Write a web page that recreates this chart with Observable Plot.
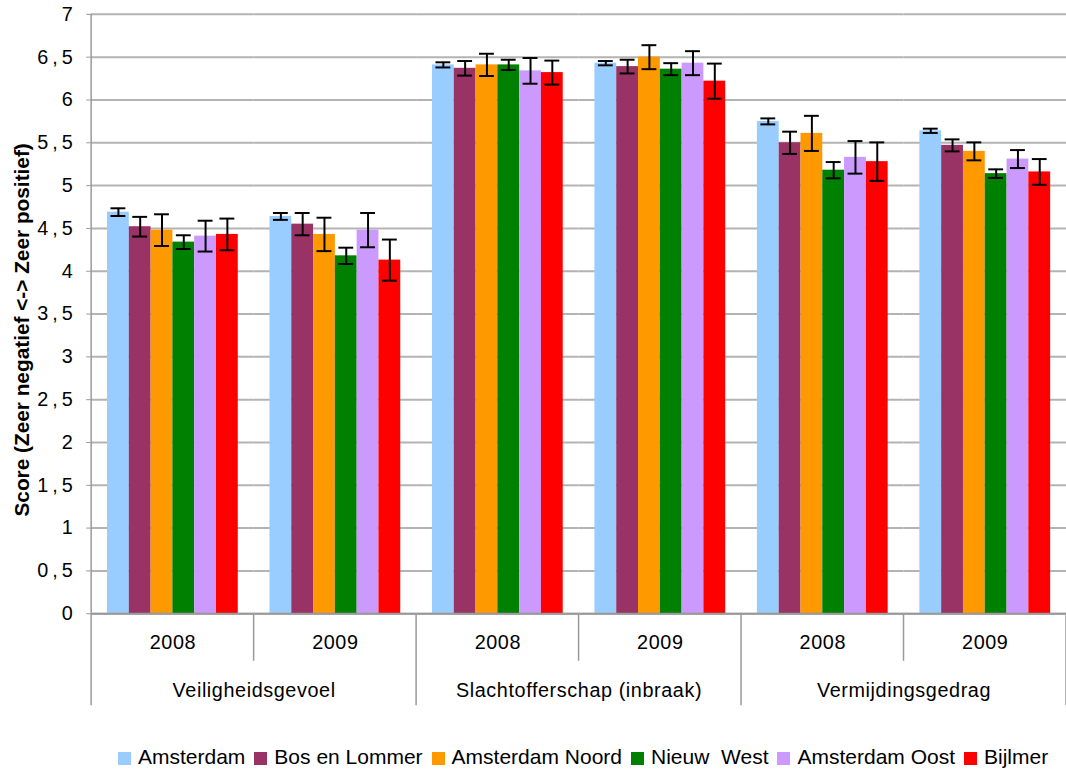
<!DOCTYPE html>
<html>
<head>
<meta charset="utf-8">
<script src="https://cdn.jsdelivr.net/npm/d3@7"></script>
<script src="https://cdn.jsdelivr.net/npm/@observablehq/plot@0.6"></script>
<style>
  html, body { margin: 0; padding: 0; background: #fff; overflow: hidden; width: 1066px; height: 772px; }
  #chart { position: absolute; left: 0; top: 0; }
  #legend { position: absolute; left: 118px; top: 745px; display: flex; align-items: center;
    font-family: "Liberation Sans", Arial, sans-serif; font-size: 21px; color: #000; white-space: pre; }
  #legend .item { display: flex; align-items: center; margin-right: 9px; }
  #legend .sw { width: 13px; height: 13px; margin-right: 7px; margin-top: 3px; }
</style>
</head>
<body>
<div id="chart"></div>
<div id="legend"></div>
<script>
const districts = ["Amsterdam", "Bos en Lommer", "Amsterdam Noord", "Nieuw  West", "Amsterdam Oost", "Bijlmer"];
const colors = ["#99CCFF", "#993366", "#FF9900", "#008000", "#CC99FF", "#FF0000"];
const categories = ["Veiligheidsgevoel", "Slachtofferschap (inbraak)", "Vermijdingsgedrag"];
const years = ["2008", "2009"];
const yTicks = [0, 0.5, 1, 1.5, 2, 2.5, 3, 3.5, 4, 4.5, 5, 5.5, 6, 6.5, 7];

// scores per group (district order as above)
const veiligheid2008 = [4.69, 4.52, 4.48, 4.34, 4.41, 4.43];
const veiligheid2009 = [4.64, 4.55, 4.43, 4.18, 4.48, 4.13];
const slachtoffer2008 = [6.41, 6.37, 6.41, 6.41, 6.34, 6.32];
const slachtoffer2009 = [6.43, 6.39, 6.50, 6.36, 6.43, 6.22];
const vermijding2008 = [5.75, 5.50, 5.61, 5.18, 5.33, 5.28];
const vermijding2009 = [5.64, 5.47, 5.40, 5.14, 5.31, 5.16];

// error margins (half-width of the error bars)
const veiligheidErr2008 = [0.045, 0.115, 0.185, 0.08, 0.18, 0.185];
const veiligheidErr2009 = [0.04, 0.13, 0.195, 0.095, 0.20, 0.24];
const slachtofferErr2008 = [0.03, 0.085, 0.13, 0.06, 0.15, 0.14];
const slachtofferErr2009 = [0.025, 0.08, 0.14, 0.07, 0.14, 0.205];
const vermijdingErr2008 = [0.035, 0.13, 0.205, 0.095, 0.19, 0.225];
const vermijdingErr2009 = [0.025, 0.07, 0.105, 0.05, 0.105, 0.15];

const groupValues = [
  [veiligheid2008, veiligheidErr2008], [veiligheid2009, veiligheidErr2009],
  [slachtoffer2008, slachtofferErr2008], [slachtoffer2009, slachtofferErr2009],
  [vermijding2008, vermijdingErr2008], [vermijding2009, vermijdingErr2009]
];

const groups = [];
categories.forEach(cat => years.forEach(year => groups.push({cat, year, key: cat + " " + year})));
const keys = groups.map(g => g.key);

const rows = [];
groups.forEach((g, gi) => {
  const [vals, errs] = groupValues[gi];
  districts.forEach((d, i) => {
    rows.push({key: g.key, district: d, value: vals[i], lo: vals[i] - errs[i], hi: vals[i] + errs[i]});
  });
});
const catRows = categories.map(c => ({cat: c, key: c + " " + years[0]}));

const fmt = d => String(d).replace(".", ",");

const chart = Plot.plot({
  width: 1076,
  height: 725,
  marginLeft: 91,
  marginRight: 0,
  marginTop: 14,
  marginBottom: 106,
  fx: {domain: keys, padding: 0, axis: null},
  x: {domain: districts, paddingInner: 0, paddingOuter: 0.727, axis: null},
  y: {domain: [0, 7], axis: null},
  color: {domain: districts, range: colors},
  style: {fontFamily: "'Liberation Sans', Arial, sans-serif", fontSize: "20px", color: "#000", background: "#fff"},
  marks: [
    Plot.gridY(yTicks, {stroke: "#b3b3b3", strokeOpacity: 1, strokeWidth: 2}),
    Plot.barY(rows, {fx: "key", x: "district", y: "value", fill: "district"}),
    Plot.ruleX(rows, {fx: "key", x: "district", y1: "lo", y2: "hi", stroke: "#000", strokeWidth: 2}),
    Plot.tickY(rows, {fx: "key", x: "district", y: "lo", stroke: "#000", strokeWidth: 2, inset: 3.5}),
    Plot.tickY(rows, {fx: "key", x: "district", y: "hi", stroke: "#000", strokeWidth: 2, inset: 3.5}),
    Plot.ruleY([0], {stroke: "#999", strokeWidth: 2}),
    Plot.axisY(yTicks, {
      tickFormat: fmt, tickSize: 5, tickPadding: 10, stroke: "#999", fontSize: 20,
      label: "Score (Zeer negatief <-> Zeer positief)", labelAnchor: "center", labelArrow: "none", labelOffset: 78
    }),
    Plot.text(groups, {fx: "key", text: "year", frameAnchor: "bottom", lineAnchor: "middle", dy: 29, fontSize: 20}),
    Plot.text(catRows, {fx: "key", text: "cat", frameAnchor: "bottom-right", lineAnchor: "middle", textAnchor: "middle", dy: 78, fontSize: 20})
  ]
});
document.getElementById("chart").appendChild(chart);

const svg = d3.select(chart);
// bold y-axis title, shifted slightly down as in the reference
svg.selectAll('g[aria-label="y-axis label"] text').attr("font-weight", "bold").attr("font-size", 21).attr("dx", -16);
// wider spacing of the tick labels, as in the reference
svg.selectAll('g[aria-label="y-axis tick label"] text').style("letter-spacing", "4px");
svg.selectAll('g[aria-label="text"] text').style("letter-spacing", "0.6px");

// category dividers below the axis, derived from scales
const fx = chart.scale("fx");
const y = chart.scale("y");
const y0 = y.apply(0), yTop = y.apply(7);
const g = svg.append("g").attr("stroke", "#999").attr("stroke-width", 1.5);
keys.forEach((k, i) => {
  const x = fx.apply(k);
  const long = i % 2 === 0;
  g.append("line").attr("x1", x).attr("x2", x)
    .attr("y1", i === 0 ? yTop : y0).attr("y2", y0 + (long ? 93 : 48));
});
const xEnd = fx.apply(keys[keys.length - 1]) + fx.bandwidth;
g.append("line").attr("x1", xEnd).attr("x2", xEnd).attr("y1", y0).attr("y2", y0 + 93);

// legend
const legend = d3.select("#legend");
districts.forEach((d, i) => {
  const it = legend.append("div").attr("class", "item");
  it.append("div").attr("class", "sw").style("background", colors[i]);
  it.append("span").text(d);
});
</script>
</body>
</html>
